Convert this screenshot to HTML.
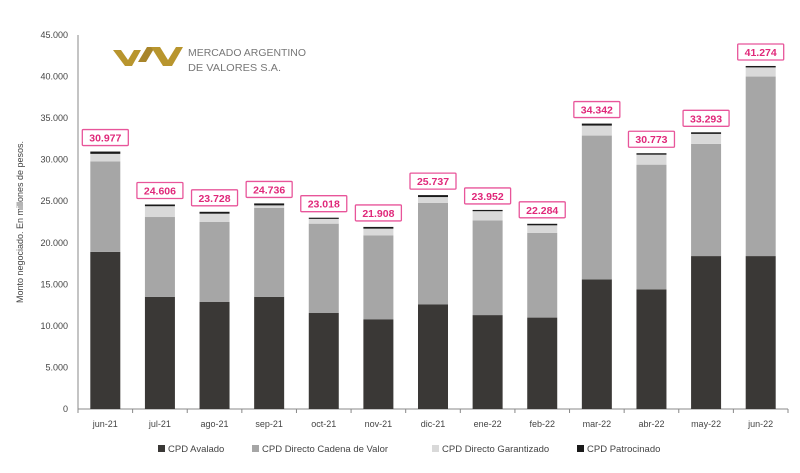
<!DOCTYPE html>
<html><head><meta charset="utf-8"><style>
body{margin:0;background:#fff;width:800px;height:468px;overflow:hidden;font-family:"Liberation Sans",sans-serif}
</style></head><body>
<svg id="chart" width="800" height="468" xmlns="http://www.w3.org/2000/svg">
<g>
<polygon points="113,50 121,50 128,60 134,50 141,50 132,66 125,66" fill="#b8952e"/>
<polygon points="138,62 147,47 155,47 146,62" fill="#a8852a"/>
<polygon points="151,47 160,47 168,60 176,47 183,47 172,66 163,66" fill="#b8952e"/>
<text x="188" y="56" font-size="10.5" fill="#777" textLength="118" lengthAdjust="spacingAndGlyphs">MERCADO ARGENTINO</text>
<text x="188" y="71" font-size="10.5" fill="#777" textLength="93" lengthAdjust="spacingAndGlyphs">DE VALORES S.A.</text>
</g>
<text transform="translate(23,222) rotate(-90)" text-anchor="middle" font-size="9" fill="#444">Monto negociado. En millones de pesos.</text>
<g id="axes"></g><g id="bars"></g><g id="labels"></g>
<g id="legend"></g>
</svg>
<script>
const categories=["jun-21","jul-21","ago-21","sep-21","oct-21","nov-21","dic-21","ene-22","feb-22","mar-22","abr-22","may-22","jun-22"];
const avalado=[18900,13500,12900,13500,11550,10800,12600,11300,11000,15600,14400,18400,18400];
const cadena=[10900,9600,9600,10700,10750,10100,12200,11400,10200,17300,15000,13500,21600];
const garantizado=[900,1300,1000,300,600,800,700,1100,900,1200,1200,1200,1100];
const totals=[30977,24606,23728,24736,23018,21908,25737,23952,22284,34342,30773,33293,41274];
const yTicks=[0,5000,10000,15000,20000,25000,30000,35000,40000,45000];
const ns="http://www.w3.org/2000/svg";
const X0=78,X1=788,Y0=409,Y1=35,YMAX=45000;
const pitch=(X1-X0)/categories.length,bw=30;
const y=v=>Y0-v/YMAX*(Y0-Y1);
const xc=i=>X0+pitch*(i+0.5);
const fmt=v=>v===0?"0":(v/1000).toFixed(3);
function mk(tag,attrs,parent){const e=document.createElementNS(ns,tag);for(const k in attrs)e.setAttribute(k,attrs[k]);parent.appendChild(e);return e;}
const axes=document.getElementById('axes'),bars=document.getElementById('bars'),labels=document.getElementById('labels'),legend=document.getElementById('legend');
let a=mk('line',{x1:X0,y1:Y1,x2:X0,y2:Y0,stroke:'#888'},axes);

a=mk('line',{x1:X0,y1:Y0,x2:X1,y2:Y0,stroke:'#888'},axes);

yTicks.forEach(t=>{const e=mk('text',{x:68,y:y(t)+3,'text-anchor':'end','font-size':9,fill:'#444'},axes);e.textContent=fmt(t);
});
for(let i=0;i<=categories.length;i++){mk('line',{x1:X0+pitch*i,y1:Y0,x2:X0+pitch*i,y2:Y0+4,stroke:'#888'},axes);}
const cols=['#3a3836','#a6a6a6','#d9d9d9','#1a1a1a'];
categories.forEach((c,i)=>{
 const pat=totals[i]-avalado[i]-cadena[i]-garantizado[i];
 const segs=[avalado[i],cadena[i],garantizado[i],Math.max(pat,0)];
 const names=['avalado','cadena','garantizado','patrocinado'];
 let base=0;
 segs.forEach((v,k)=>{const r=mk('rect',{x:xc(i)-bw/2,y:y(base+v),width:bw,height:Math.max(y(base)-y(base+v),k==3?1.2:0),fill:cols[k]},bars);
 base+=v;});
 const t=mk('text',{x:xc(i),y:y(totals[i])-10,'text-anchor':'middle','font-size':10.5,'font-weight':'bold',fill:'#e0287a'},labels);
 t.textContent=fmt(totals[i]);
 
 const r=mk('rect',{x:xc(i)-23,y:y(totals[i])-22,width:46,height:16,fill:'none',stroke:'#e8559a','stroke-width':1.3,rx:1},labels);
 
 const l=mk('text',{x:xc(i),y:427,'text-anchor':'middle','font-size':9,fill:'#444'},axes);l.textContent=c;
 
});
const legItems=[['CPD Avalado',158],['CPD Directo Cadena de Valor',252],['CPD Directo Garantizado',432],['CPD Patrocinado',577]];
legItems.forEach((li,k)=>{mk('rect',{x:li[1],y:445,width:7,height:7,fill:cols[k]},legend);
 const t=mk('text',{x:li[1]+10,y:452,'font-size':9.5,fill:'#444'},legend);t.textContent=li[0];
 });
</script>
</body></html>
